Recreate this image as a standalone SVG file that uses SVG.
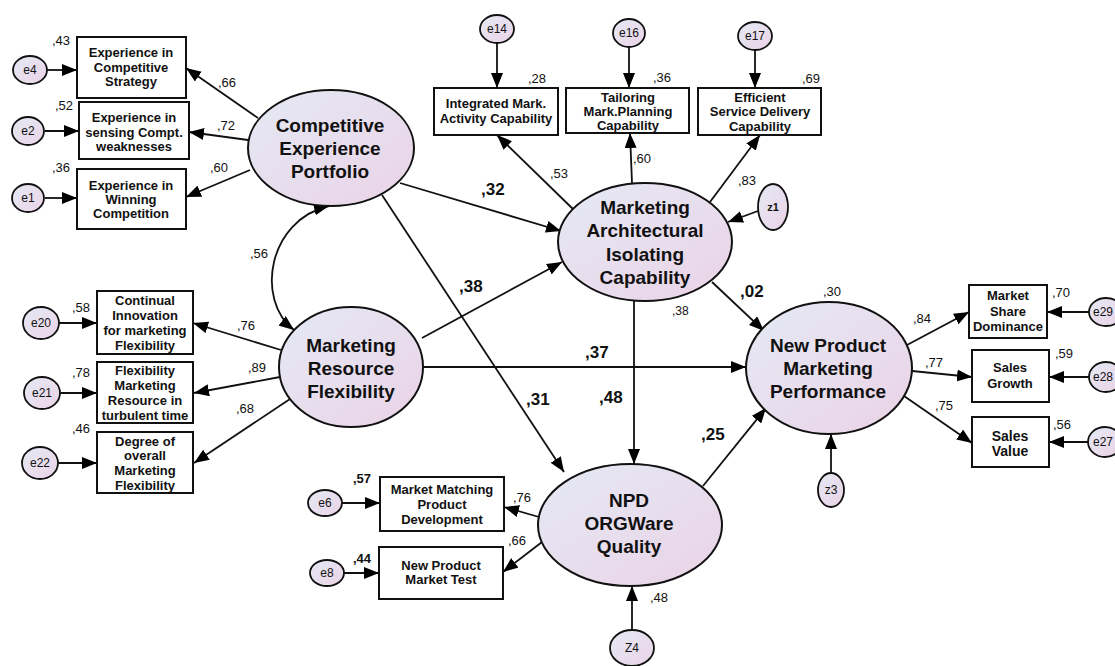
<svg xmlns="http://www.w3.org/2000/svg" width="1115" height="666" viewBox="0 0 1115 666">
<defs>
<linearGradient id="lg" x1="0" y1="0" x2="1" y2="1">
<stop offset="0" stop-color="#e5e9f5"/>
<stop offset="1" stop-color="#ead3e6"/>
</linearGradient>
<marker id="ah" markerWidth="16" markerHeight="12" refX="15" refY="6" orient="auto-start-reverse" markerUnits="userSpaceOnUse">
<path d="M0,0 L15,6 L0,12 z" fill="#000"/>
</marker>
<style>
text{font-family:"Liberation Sans",Arial,sans-serif;fill:#111;}
.lat{fill:url(#lg);stroke:#111;stroke-width:2;}
.err{fill:url(#lg);stroke:#111;stroke-width:1.8;}
.box{fill:#fff;stroke:#111;stroke-width:2;}
.lt{font-size:19px;font-weight:bold;text-anchor:middle;}
.bt{font-size:13px;font-weight:bold;text-anchor:middle;}
.et{font-size:12px;text-anchor:middle;}
.pl{font-size:13px;}
.bl{font-size:17px;font-weight:bold;}
.sb{font-size:13px;font-weight:bold;}
.cn line,.cn path{stroke:#111;stroke-width:1.8;fill:none;marker-end:url(#ah);}
</style>
</defs>
<rect width="1115" height="666" fill="#fff"/>

<g id="connectors" class="cn">
<line x1="400" y1="183" x2="561" y2="231"/>
<line x1="382" y1="195" x2="564" y2="472"/>
<line x1="422" y1="338" x2="562" y2="262"/>
<line x1="423" y1="367" x2="746" y2="367"/>
<line x1="634" y1="301" x2="634" y2="464"/>
<line x1="712" y1="282" x2="764" y2="331"/>
<line x1="703" y1="486" x2="766" y2="408"/>
<path d="M329,206 C268,220 255,300 294,330" style="marker-start:url(#ah)"/>
<line x1="758" y1="211" x2="728" y2="222"/>
<line x1="831" y1="473" x2="831" y2="434"/>
<line x1="632" y1="629" x2="632" y2="586"/>
<line x1="574" y1="210" x2="497" y2="135"/>
<line x1="632" y1="183" x2="630" y2="133"/>
<line x1="710" y1="202" x2="760" y2="135"/>
<line x1="258" y1="118" x2="186" y2="68"/>
<line x1="248" y1="140" x2="189" y2="132"/>
<line x1="250" y1="170" x2="186" y2="197"/>
<line x1="281" y1="350" x2="193" y2="323"/>
<line x1="280" y1="377" x2="194" y2="393"/>
<line x1="290" y1="399" x2="194" y2="463"/>
<line x1="539" y1="517" x2="504" y2="507"/>
<line x1="542" y1="542" x2="503" y2="572"/>
<line x1="907" y1="345" x2="969" y2="312"/>
<line x1="912" y1="371" x2="972" y2="377"/>
<line x1="904" y1="396" x2="972" y2="443"/>
<line x1="47" y1="70" x2="77" y2="70"/>
<line x1="45" y1="131" x2="79" y2="131"/>
<line x1="45" y1="198" x2="77" y2="198"/>
<line x1="497" y1="43" x2="497" y2="88"/>
<line x1="629" y1="47" x2="629" y2="88"/>
<line x1="755" y1="50" x2="755" y2="88"/>
<line x1="59" y1="323" x2="97" y2="323"/>
<line x1="60" y1="393" x2="97" y2="393"/>
<line x1="58" y1="463" x2="97" y2="463"/>
<line x1="342" y1="503" x2="380" y2="503"/>
<line x1="344" y1="573" x2="379" y2="573"/>
<line x1="1089" y1="312" x2="1047" y2="312"/>
<line x1="1089" y1="377" x2="1049" y2="377"/>
<line x1="1088" y1="442" x2="1049" y2="442"/>
</g>

<g id="CEP"><ellipse class="lat" cx="331" cy="148" rx="83" ry="58"/>
<text class="lt" x="330" y="132">Competitive</text><text class="lt" x="330" y="155">Experience</text><text class="lt" x="330" y="178">Portfolio</text></g>
<g id="MAIC"><ellipse class="lat" cx="645" cy="242" rx="87" ry="59"/>
<text class="lt" x="645" y="214">Marketing</text><text class="lt" x="645" y="237">Architectural</text><text class="lt" x="645" y="261">Isolating</text><text class="lt" x="645" y="284">Capability</text></g>
<g id="MRF"><ellipse class="lat" cx="351" cy="367" rx="72" ry="60"/>
<text class="lt" x="351" y="352">Marketing</text><text class="lt" x="351" y="375">Resource</text><text class="lt" x="351" y="398">Flexibility</text></g>
<g id="NPMP"><ellipse class="lat" cx="829" cy="368" rx="83" ry="66"/>
<text class="lt" x="828" y="352">New Product</text><text class="lt" x="828" y="375">Marketing</text><text class="lt" x="828" y="398">Performance</text></g>
<g id="NPD"><ellipse class="lat" cx="630" cy="525" rx="92" ry="61"/>
<text class="lt" x="629" y="507">NPD</text><text class="lt" x="629" y="530">ORGWare</text><text class="lt" x="629" y="553">Quality</text></g>

<g id="box-ecs"><rect class="box" x="77" y="37" width="109" height="61"/>
<text class="bt" x="131" y="57">Experience in</text><text class="bt" x="131" y="72">Competitive</text><text class="bt" x="131" y="86">Strategy</text></g>
<g id="box-esc"><rect class="box" x="79" y="102" width="110" height="57"/>
<text class="bt" x="134" y="122">Experience in</text><text class="bt" x="134" y="137">sensing Compt.</text><text class="bt" x="134" y="151">weaknesses</text></g>
<g id="box-ewc"><rect class="box" x="77" y="169" width="109" height="60"/>
<text class="bt" x="131" y="190">Experience in</text><text class="bt" x="131" y="204">Winning</text><text class="bt" x="131" y="218">Competition</text></g>
<g id="box-imac"><rect class="box" x="434" y="88" width="124" height="47"/>
<text class="bt" x="496" y="108">Integrated Mark.</text><text class="bt" x="496" y="123">Activity Capability</text></g>
<g id="box-tmpc"><rect class="box" x="566" y="88" width="123" height="45"/>
<text class="bt" x="628" y="102">Tailoring</text><text class="bt" x="628" y="116">Mark.Planning</text><text class="bt" x="628" y="130">Capability</text></g>
<g id="box-esdc"><rect class="box" x="698" y="88" width="123" height="47"/>
<text class="bt" x="760" y="102">Efficient</text><text class="bt" x="760" y="116">Service Delivery</text><text class="bt" x="760" y="131">Capability</text></g>
<g id="box-ci"><rect class="box" x="97" y="291" width="96" height="63"/>
<text class="bt" x="145" y="305">Continual</text><text class="bt" x="145" y="320">Innovation</text><text class="bt" x="145" y="335">for marketing</text><text class="bt" x="145" y="350">Flexibility</text></g>
<g id="box-fmr"><rect class="box" x="97" y="362" width="96" height="61"/>
<text class="bt" x="145" y="375">Flexibility</text><text class="bt" x="145" y="390">Marketing</text><text class="bt" x="145" y="405">Resource in</text><text class="bt" x="145" y="420">turbulent time</text></g>
<g id="box-dom"><rect class="box" x="97" y="432" width="96" height="61"/>
<text class="bt" x="145" y="446">Degree of</text><text class="bt" x="145" y="460">overall</text><text class="bt" x="145" y="475">Marketing</text><text class="bt" x="145" y="490">Flexibility</text></g>
<g id="box-mmpd"><rect class="box" x="380" y="477" width="124" height="54"/>
<text class="bt" x="442" y="494">Market Matching</text><text class="bt" x="442" y="509">Product</text><text class="bt" x="442" y="524">Development</text></g>
<g id="box-npmt"><rect class="box" x="379" y="547" width="124" height="52"/>
<text class="bt" x="441" y="570">New Product</text><text class="bt" x="441" y="584">Market Test</text></g>
<g id="box-msd"><rect class="box" x="969" y="285" width="78" height="53"/>
<text class="bt" x="1008" y="300">Market</text><text class="bt" x="1008" y="316">Share</text><text class="bt" x="1008" y="331">Dominance</text></g>
<g id="box-sg"><rect class="box" x="972" y="350" width="77" height="52"/>
<text class="bt" x="1010" y="372">Sales</text><text class="bt" x="1010" y="388">Growth</text></g>
<g id="box-sv"><rect class="box" x="972" y="417" width="77" height="50"/>
<text class="bt" x="1010" y="441" style="font-size:14px">Sales</text><text class="bt" x="1010" y="456" style="font-size:14px">Value</text></g>

<g id="e4"><ellipse class="err" cx="30" cy="70" rx="17" ry="14"/><text class="et" x="30" y="74">e4</text></g>
<g id="e2"><ellipse class="err" cx="28" cy="131" rx="16" ry="14"/><text class="et" x="28" y="135">e2</text></g>
<g id="e1"><ellipse class="err" cx="28" cy="198" rx="16" ry="14"/><text class="et" x="28" y="202">e1</text></g>
<g id="e14"><ellipse class="err" cx="497" cy="29" rx="17" ry="14"/><text class="et" x="497" y="33">e14</text></g>
<g id="e16"><ellipse class="err" cx="629" cy="33" rx="16" ry="14"/><text class="et" x="629" y="37">e16</text></g>
<g id="e17"><ellipse class="err" cx="755" cy="36" rx="17" ry="14"/><text class="et" x="755" y="40">e17</text></g>
<g id="z1"><ellipse class="err" cx="773" cy="207" rx="15" ry="23"/><text class="et" x="773" y="211" style="font-size:11px;font-weight:bold">z1</text></g>
<g id="e20"><ellipse class="err" cx="41" cy="323" rx="18" ry="16"/><text class="et" x="41" y="327">e20</text></g>
<g id="e21"><ellipse class="err" cx="42" cy="393" rx="18" ry="16"/><text class="et" x="42" y="397">e21</text></g>
<g id="e22"><ellipse class="err" cx="40" cy="463" rx="18" ry="16"/><text class="et" x="40" y="467">e22</text></g>
<g id="e6"><ellipse class="err" cx="325" cy="503" rx="17" ry="13"/><text class="et" x="325" y="507">e6</text></g>
<g id="e8"><ellipse class="err" cx="327" cy="573" rx="17" ry="13"/><text class="et" x="327" y="577">e8</text></g>
<g id="z3"><ellipse class="err" cx="831" cy="490" rx="13" ry="17"/><text class="et" x="831" y="494">z3</text></g>
<g id="Z4"><ellipse class="err" cx="632" cy="648" rx="22" ry="18"/><text class="et" x="632" y="652">Z4</text></g>
<g id="e29"><ellipse class="err" cx="1106" cy="312" rx="17" ry="14"/><text class="et" x="1103" y="316">e29</text></g>
<g id="e28"><ellipse class="err" cx="1106" cy="377" rx="17" ry="15"/><text class="et" x="1103" y="381">e28</text></g>
<g id="e27"><ellipse class="err" cx="1105" cy="442" rx="17" ry="15"/><text class="et" x="1103" y="446">e27</text></g>

<g id="labels">
<text class="pl" x="52" y="45">,43</text>
<text class="pl" x="55" y="110">,52</text>
<text class="pl" x="52" y="172">,36</text>
<text class="pl" x="218" y="87">,66</text>
<text class="pl" x="217" y="130">,72</text>
<text class="pl" x="210" y="172">,60</text>
<text class="pl" x="528" y="83">,28</text>
<text class="pl" x="653" y="82">,36</text>
<text class="pl" x="802" y="83">,69</text>
<text class="pl" x="550" y="178">,53</text>
<text class="pl" x="633" y="163">,60</text>
<text class="pl" x="738" y="185">,83</text>
<text class="bl" x="481" y="195">,32</text>
<text class="pl" x="72" y="312">,58</text>
<text class="pl" x="72" y="377">,78</text>
<text class="pl" x="72" y="433">,46</text>
<text class="pl" x="237" y="330">,76</text>
<text class="pl" x="248" y="372">,89</text>
<text class="pl" x="236" y="413">,68</text>
<text class="pl" x="250" y="258">,56</text>
<text class="pl" x="823" y="296">,30</text>
<text class="bl" x="740" y="297">,02</text>
<text class="pl" x="913" y="323">,84</text>
<text class="pl" x="925" y="367">,77</text>
<text class="pl" x="935" y="410">,75</text>
<text class="pl" x="1052" y="297">,70</text>
<text class="pl" x="1055" y="358">,59</text>
<text class="pl" x="1053" y="429">,56</text>
<text class="bl" x="459" y="292">,38</text>
<text class="bl" x="585" y="358">,37</text>
<text class="bl" x="526" y="405">,31</text>
<text class="bl" x="599" y="403">,48</text>
<text class="bl" x="701" y="440">,25</text>
<text class="pl" x="672" y="315" style="font-size:12px">,38</text>
<text class="sb" x="353" y="483">,57</text>
<text class="sb" x="353" y="563">,44</text>
<text class="pl" x="513" y="502">,76</text>
<text class="pl" x="508" y="545">,66</text>
<text class="pl" x="650" y="602">,48</text>
</g>
</svg>
